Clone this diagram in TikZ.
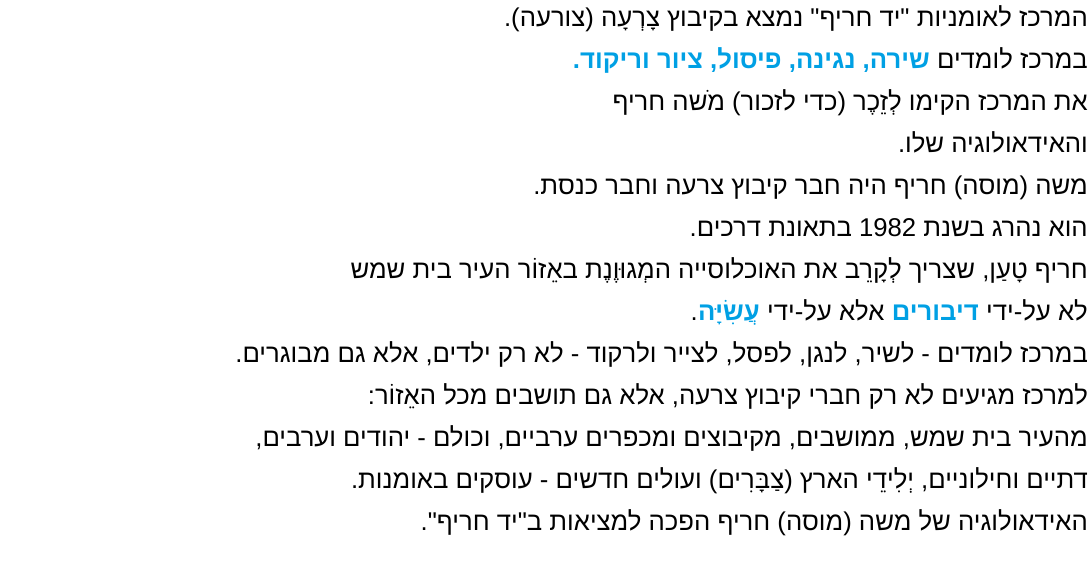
\documentclass[tikz,border=0pt]{standalone}
\usepackage{fontspec}
\TeXXeTstate=1
\newfontfamily\hebfont[Script=Hebrew]{Liberation Sans}
\definecolor{hlblue}{RGB}{0,160,228}
\begin{document}
\begin{tikzpicture}[x=1pt,y=-1pt,
  line/.style={anchor=base east, inner sep=0pt, font=\hebfont\fontsize{25.7}{26}\selectfont},
  hl/.style={line, text=hlblue, font=\hebfont\bfseries\fontsize{25.7}{26}\selectfont}]
\useasboundingbox (0,0) rectangle (1090,563);
% שורות הטקסט, מיושרות לימין
\node[line] (l1) at (1088,26) {\beginR המרכז לאומניות "יד חריף" נמצא בקיבוץ צָרְעָה (צורעה).\endR};
\node[line] (l2) at (1088,68) {\beginR במרכז לומדים\endR};
\node[hl] (l2b) at ([xshift=-7]l2.base west) {\beginR שירה, נגינה, פיסול, ציור וריקוד.\endR};
\node[line] (l3) at (1088,110) {\beginR את המרכז הקימו לְזֵכֶר (כדי לזכור) מֹשה חריף\endR};
\node[line] (l4) at (1088,152) {\beginR והאידאולוגיה שלו.\endR};
\node[line] (l5) at (1088,194) {\beginR משה (מוסה) חריף היה חבר קיבוץ צרעה וחבר כנסת.\endR};
\node[line] (l6) at (1088,236) {\beginR הוא נהרג בשנת \beginL 1982\endL{} בתאונת דרכים.\endR};
\node[line] (l7) at (1088,278) {\beginR חריף טָעַן, שצריך לְקָרֵב את האוכלוסייה המְגוּוֶנֶת באֵזוֹר העיר בית שמש\endR};
\node[line] (l8) at (1088,320) {\beginR לא על-ידי\endR};
\node[hl] (l8b) at ([xshift=-7]l8.base west) {\beginR דיבורים\endR};
\node[line] (l8c) at ([xshift=-7]l8b.base west) {\beginR אלא על-ידי\endR};
\node[hl] (l8d) at ([xshift=-7]l8c.base west) {\beginR עֲשִׂיָּה\endR};
\node[line] (l8e) at (l8d.base west) {.};
\node[line] (l9) at (1088,362) {\beginR במרכז לומדים - לשיר, לנגן, לפסל, לצייר ולרקוד - לא רק ילדים, אלא גם מבוגרים.\endR};
\node[line] (l10) at (1088,404) {\beginR למרכז מגיעים לא רק חברי קיבוץ צרעה, אלא גם תושבים מכל האֵזוֹר:\endR};
\node[line] (l11) at (1088,446) {\beginR מהעיר בית שמש, ממושבים, מקיבוצים ומכפרים ערביים, וכולם - יהודים וערבים,\endR};
\node[line] (l12) at (1088,488) {\beginR דתיים וחילוניים, יְלִידֵי הארץ (צַבָּרִים) ועולים חדשים - עוסקים באומנות.\endR};
\node[line] (l13) at (1088,530) {\beginR האידאולוגיה של משה (מוסה) חריף הפכה למציאות ב"יד חריף".\endR};
\end{tikzpicture}
\end{document}
